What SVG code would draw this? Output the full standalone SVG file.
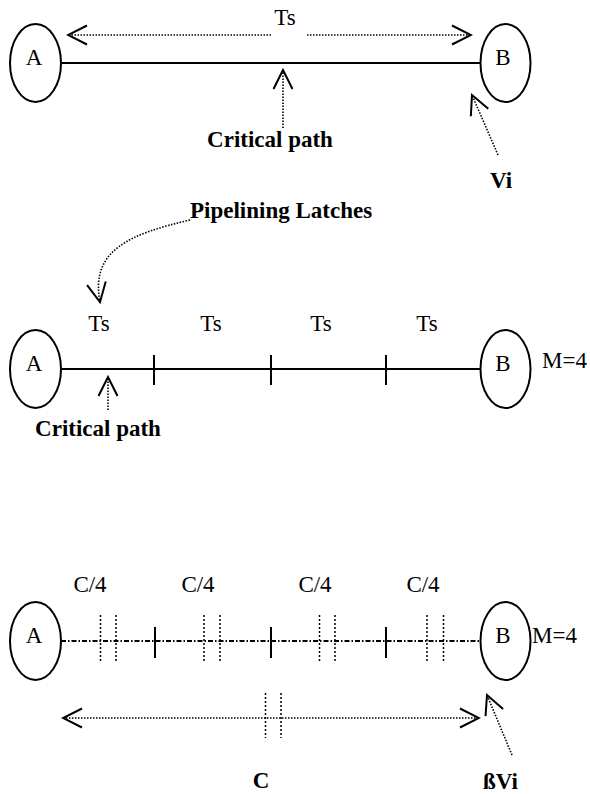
<svg xmlns="http://www.w3.org/2000/svg" width="590" height="794" viewBox="0 0 590 794">
<style>
  .node ellipse { fill: #fff; stroke: #000; stroke-width: 2; }
  text { font-family: "Liberation Serif", "Times New Roman", serif; font-size: 23px; fill: #000; }
  .b { font-weight: bold; }
  .wire { stroke: #000; stroke-width: 2.2; fill: none; }
  .tick { stroke: #000; stroke-width: 2; }
  .dot { stroke: #000; stroke-width: 1.6; stroke-dasharray: 1.5 1.5; fill: none; }
  .vdot { stroke: #000; stroke-width: 1.5; stroke-dasharray: 2 2; fill: none; }
  .dashdot { stroke: #000; stroke-width: 1.8; stroke-dasharray: 5 2 1.5 2; fill: none; }
  .arr { marker-end: url(#v); }
  .arr2 { marker-start: url(#v); marker-end: url(#v); }
</style>
<defs>
  <marker id="v" viewBox="-22 -12 24 24" markerWidth="24" markerHeight="24" refX="0" refY="0" markerUnits="userSpaceOnUse" orient="auto-start-reverse">
    <path d="M-19,-9.5 L0,0 L-19,9.5" fill="none" stroke="#000" stroke-width="2" stroke-dasharray="none"/>
  </marker>
</defs>

<!-- Section 1 -->
<g id="s1-A" class="node"><ellipse cx="35.5" cy="63" rx="25.5" ry="39"/><text x="34" y="65" text-anchor="middle">A</text></g>
<g id="s1-B" class="node"><ellipse cx="505.5" cy="63" rx="25" ry="39"/><text x="503" y="65" text-anchor="middle">B</text></g>
<g id="s1-labels">
  <text x="285" y="25" text-anchor="middle">Ts</text>
  <text class="b" x="270" y="147" text-anchor="middle">Critical path</text>
  <text class="b" x="501" y="188" text-anchor="middle">Vi</text>
</g>

<!-- Section 2 -->
<g id="s2-A" class="node"><ellipse cx="35.5" cy="369" rx="25.5" ry="39"/><text x="34" y="371" text-anchor="middle">A</text></g>
<g id="s2-B" class="node"><ellipse cx="505.5" cy="369" rx="25" ry="39"/><text x="503" y="371" text-anchor="middle">B</text></g>
<g id="s2-labels">
  <text class="b" x="190" y="218">Pipelining Latches</text>
  <text x="99" y="331" text-anchor="middle">Ts</text>
  <text x="211" y="331" text-anchor="middle">Ts</text>
  <text x="321" y="331" text-anchor="middle">Ts</text>
  <text x="427" y="331" text-anchor="middle">Ts</text>
  <text x="542" y="368">M=4</text>
  <text class="b" x="98" y="436" text-anchor="middle">Critical path</text>
</g>

<!-- Section 3 -->
<g id="s3-A" class="node"><ellipse cx="35.5" cy="641" rx="25.5" ry="39"/><text x="34" y="643" text-anchor="middle">A</text></g>
<g id="s3-B" class="node"><ellipse cx="505.5" cy="641" rx="25" ry="39"/><text x="503" y="643" text-anchor="middle">B</text></g>
<g id="s3-labels">
  <text x="90" y="592" text-anchor="middle">C/4</text>
  <text x="198" y="592" text-anchor="middle">C/4</text>
  <text x="315" y="592" text-anchor="middle">C/4</text>
  <text x="423" y="592" text-anchor="middle">C/4</text>
  <text x="532" y="643">M=4</text>
  <text class="b" x="261" y="788" text-anchor="middle">C</text>
  <text class="b" x="483" y="789">ßVi</text>
</g>

<g id="connectors">
  <!-- section 1 -->
  <line class="wire" x1="61" y1="63" x2="480.5" y2="63"/>
  <line class="dot arr" x1="271" y1="35" x2="68" y2="35"/>
  <line class="dot arr" x1="307" y1="35" x2="471" y2="35"/>
  <line class="dot arr" x1="283" y1="128" x2="283" y2="70"/>
  <line class="dot arr" x1="498" y1="155" x2="472" y2="95"/>
  <!-- section 2 -->
  <line class="wire" x1="61" y1="369" x2="480.5" y2="369"/>
  <line class="tick" x1="154" y1="355" x2="154" y2="385"/>
  <line class="tick" x1="271" y1="355" x2="271" y2="385"/>
  <line class="tick" x1="386" y1="355" x2="386" y2="385"/>
  <path class="dot arr" d="M190,220 C130,234 90,250 100,302"/>
  <line class="dot arr" x1="108" y1="410" x2="108" y2="377"/>
  <!-- section 3 -->
  <line class="dashdot" x1="61" y1="641" x2="480.5" y2="641"/>
  <line class="tick" x1="155" y1="627" x2="155" y2="658"/>
  <line class="tick" x1="271" y1="627" x2="271" y2="658"/>
  <line class="tick" x1="386" y1="627" x2="386" y2="658"/>
  <line class="vdot" x1="100.5" y1="615" x2="100.5" y2="662"/>
  <line class="vdot" x1="116" y1="615" x2="116" y2="662"/>
  <line class="vdot" x1="204" y1="615" x2="204" y2="662"/>
  <line class="vdot" x1="220" y1="615" x2="220" y2="662"/>
  <line class="vdot" x1="319.5" y1="615" x2="319.5" y2="662"/>
  <line class="vdot" x1="335" y1="615" x2="335" y2="662"/>
  <line class="vdot" x1="427" y1="615" x2="427" y2="662"/>
  <line class="vdot" x1="443.5" y1="615" x2="443.5" y2="662"/>
  <line class="dot arr2" x1="63" y1="718" x2="479" y2="718"/>
  <line class="vdot" x1="265.5" y1="693" x2="265.5" y2="738"/>
  <line class="vdot" x1="281" y1="693" x2="281" y2="738"/>
  <line class="dot arr" x1="512" y1="755" x2="487" y2="695"/>
</g>
</svg>
